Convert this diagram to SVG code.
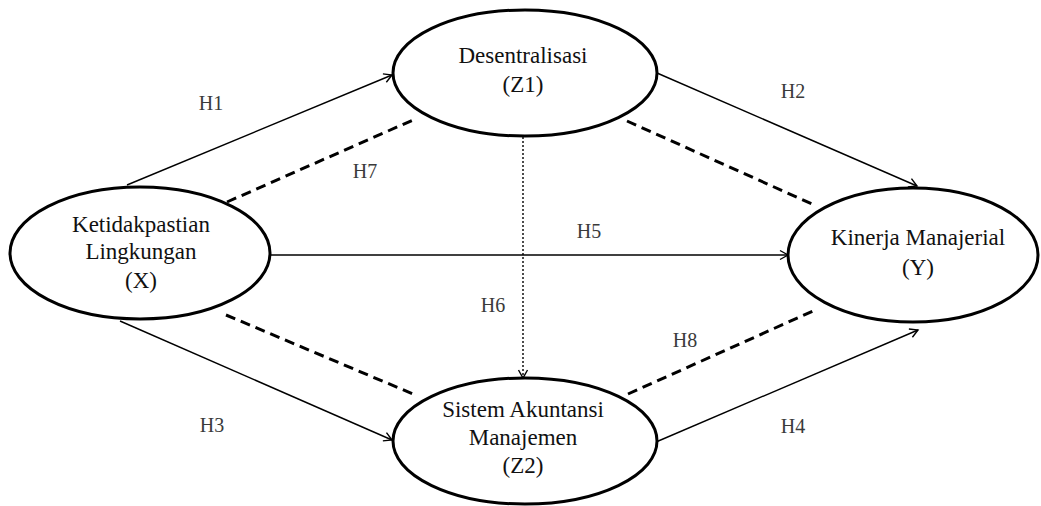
<svg xmlns="http://www.w3.org/2000/svg" width="1041" height="506" viewBox="0 0 1041 506">
<style>
.node{fill:#fff;stroke:#000;stroke-width:3}
.nt{font-family:"Liberation Serif",serif;font-size:23px;fill:#111;text-anchor:middle}
.lb{font-family:"Liberation Serif",serif;font-size:20px;fill:#3a3a3a;text-anchor:middle}
.arr{stroke:#000;stroke-width:1.4;fill:none;marker-end:url(#ah)}
.dash{stroke:#000;stroke-width:3;fill:none;stroke-dasharray:10 6}
.dot{stroke:#000;stroke-width:1.4;fill:none;stroke-dasharray:2 2;marker-end:url(#ah)}
</style>
<defs>
<marker id="ah" markerWidth="12" markerHeight="12" refX="10" refY="6" orient="auto" markerUnits="userSpaceOnUse">
<path d="M2,1.5 L10,6 L2,10.5" fill="none" stroke="#000" stroke-width="1.4"/>
</marker>
</defs>
<rect width="1041" height="506" fill="#fff"/>
<g id="connectors">
<line class="arr" x1="127" y1="185" x2="392" y2="75"/>
<line class="dash" x1="227" y1="202" x2="413" y2="120"/>
<line class="arr" x1="657" y1="73" x2="917" y2="186"/>
<line class="dash" x1="627" y1="121" x2="812" y2="204"/>
<line class="arr" x1="270" y1="255" x2="788" y2="255"/>
<line class="dot" x1="523" y1="137" x2="523" y2="378"/>
<line class="arr" x1="120" y1="321" x2="392" y2="440"/>
<line class="dash" x1="226" y1="315" x2="413" y2="394"/>
<line class="dash" x1="628" y1="394" x2="813" y2="311"/>
<line class="arr" x1="656" y1="442" x2="918" y2="330"/>
</g>
<g id="labels">
<text class="lb" x="211" y="110">H1</text>
<text class="lb" x="793" y="98">H2</text>
<text class="lb" x="212" y="432">H3</text>
<text class="lb" x="793" y="433">H4</text>
<text class="lb" x="589" y="238">H5</text>
<text class="lb" x="493" y="312">H6</text>
<text class="lb" x="365" y="178">H7</text>
<text class="lb" x="685" y="347">H8</text>
</g>
<g id="node-z1">
<ellipse class="node" cx="525" cy="73" rx="132" ry="63"/>
<text class="nt" x="523" y="63">Desentralisasi</text>
<text class="nt" x="523" y="92">(Z1)</text>
</g>
<g id="node-x">
<ellipse class="node" cx="140" cy="253" rx="130" ry="66"/>
<text class="nt" x="141" y="232">Ketidakpastian</text>
<text class="nt" x="141" y="259">Lingkungan</text>
<text class="nt" x="141" y="288">(X)</text>
</g>
<g id="node-y">
<ellipse class="node" cx="913" cy="255" rx="125" ry="67"/>
<text class="nt" x="918" y="245">Kinerja Manajerial</text>
<text class="nt" x="918" y="275">(Y)</text>
</g>
<g id="node-z2">
<ellipse class="node" cx="525" cy="441" rx="132" ry="63"/>
<text class="nt" x="523" y="417">Sistem Akuntansi</text>
<text class="nt" x="523" y="445">Manajemen</text>
<text class="nt" x="523" y="473">(Z2)</text>
</g>
</svg>
